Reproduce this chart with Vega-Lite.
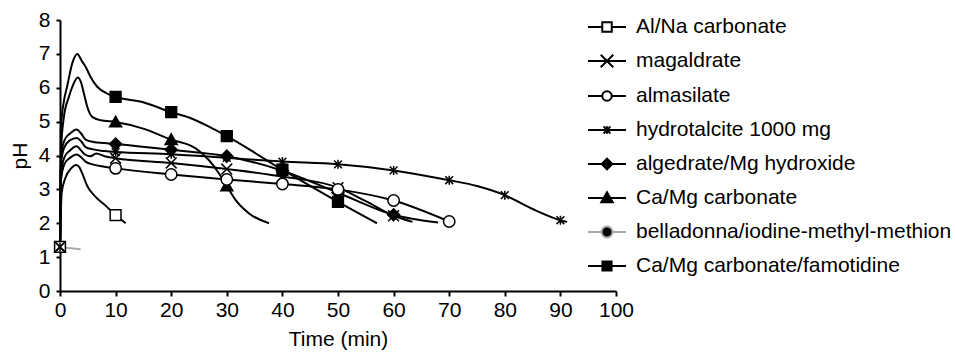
{
  "$schema": "https://vega.github.io/schema/vega-lite/v6.json",
  "width": 556,
  "height": 271,
  "autosize": {"type": "none"},
  "padding": {"left": 60, "top": 20, "right": 339, "bottom": 63},
  "background": "white",
  "config": {
    "view": {"stroke": null},
    "font": "Liberation Sans",
    "axis": {
      "grid": false,
      "domainColor": "black",
      "domainWidth": 2,
      "tickColor": "black",
      "tickWidth": 2,
      "labelFontSize": 21,
      "labelColor": "black",
      "labelOverlap": false,
      "titleFontSize": 21,
      "titleFontWeight": "normal",
      "titleColor": "black",
      "labelFont": "Liberation Sans",
      "titleFont": "Liberation Sans"
    },
    "point": {"size": 144, "strokeWidth": 1.5, "opacity": 1, "stroke": "black"}
  },
  "datasets": {
    "curves": [
      {"series": "Al/Na carbonate", "t": 0, "pH": 1.3},
      {"series": "Al/Na carbonate", "t": 0.3, "pH": 2.9},
      {"series": "Al/Na carbonate", "t": 1.0, "pH": 3.35},
      {"series": "Al/Na carbonate", "t": 2.0, "pH": 3.62},
      {"series": "Al/Na carbonate", "t": 2.9, "pH": 3.72},
      {"series": "Al/Na carbonate", "t": 3.5, "pH": 3.65},
      {"series": "Al/Na carbonate", "t": 4.0, "pH": 3.47},
      {"series": "Al/Na carbonate", "t": 4.9, "pH": 3.1},
      {"series": "Al/Na carbonate", "t": 6.4, "pH": 2.78},
      {"series": "Al/Na carbonate", "t": 8.2, "pH": 2.52},
      {"series": "Al/Na carbonate", "t": 10, "pH": 2.24},
      {"series": "Al/Na carbonate", "t": 11.8, "pH": 2.0},

      {"series": "magaldrate", "t": 0, "pH": 1.3},
      {"series": "magaldrate", "t": 0.2, "pH": 3.5},
      {"series": "magaldrate", "t": 0.8, "pH": 3.95},
      {"series": "magaldrate", "t": 1.8, "pH": 4.15},
      {"series": "magaldrate", "t": 3.0, "pH": 4.27},
      {"series": "magaldrate", "t": 3.8, "pH": 4.15},
      {"series": "magaldrate", "t": 4.5, "pH": 4.03},
      {"series": "magaldrate", "t": 5.5, "pH": 3.98},
      {"series": "magaldrate", "t": 6.5, "pH": 4.06},
      {"series": "magaldrate", "t": 8, "pH": 3.98},
      {"series": "magaldrate", "t": 10, "pH": 3.92},
      {"series": "magaldrate", "t": 20, "pH": 3.78},
      {"series": "magaldrate", "t": 30, "pH": 3.6},
      {"series": "magaldrate", "t": 40, "pH": 3.38},
      {"series": "magaldrate", "t": 50, "pH": 3.05},
      {"series": "magaldrate", "t": 55, "pH": 2.65},
      {"series": "magaldrate", "t": 60, "pH": 2.22},
      {"series": "magaldrate", "t": 63.4, "pH": 2.04},

      {"series": "almasilate", "t": 0, "pH": 1.3},
      {"series": "almasilate", "t": 0.2, "pH": 3.3},
      {"series": "almasilate", "t": 0.8, "pH": 3.75},
      {"series": "almasilate", "t": 1.8, "pH": 3.93},
      {"series": "almasilate", "t": 3.0, "pH": 4.03},
      {"series": "almasilate", "t": 3.8, "pH": 3.95},
      {"series": "almasilate", "t": 4.6, "pH": 3.82},
      {"series": "almasilate", "t": 6, "pH": 3.73},
      {"series": "almasilate", "t": 8, "pH": 3.67},
      {"series": "almasilate", "t": 10, "pH": 3.62},
      {"series": "almasilate", "t": 20, "pH": 3.44},
      {"series": "almasilate", "t": 30, "pH": 3.29},
      {"series": "almasilate", "t": 40, "pH": 3.16},
      {"series": "almasilate", "t": 50, "pH": 3.0},
      {"series": "almasilate", "t": 60, "pH": 2.67},
      {"series": "almasilate", "t": 70, "pH": 2.05},

      {"series": "hydrotalcite 1000 mg", "t": 0, "pH": 1.3},
      {"series": "hydrotalcite 1000 mg", "t": 0.2, "pH": 3.8},
      {"series": "hydrotalcite 1000 mg", "t": 0.8, "pH": 4.25},
      {"series": "hydrotalcite 1000 mg", "t": 1.8, "pH": 4.45},
      {"series": "hydrotalcite 1000 mg", "t": 3.0, "pH": 4.52},
      {"series": "hydrotalcite 1000 mg", "t": 3.8, "pH": 4.42},
      {"series": "hydrotalcite 1000 mg", "t": 4.6, "pH": 4.25},
      {"series": "hydrotalcite 1000 mg", "t": 6, "pH": 4.18},
      {"series": "hydrotalcite 1000 mg", "t": 8, "pH": 4.13},
      {"series": "hydrotalcite 1000 mg", "t": 10, "pH": 4.1},
      {"series": "hydrotalcite 1000 mg", "t": 20, "pH": 4.04},
      {"series": "hydrotalcite 1000 mg", "t": 30, "pH": 3.93},
      {"series": "hydrotalcite 1000 mg", "t": 40, "pH": 3.82},
      {"series": "hydrotalcite 1000 mg", "t": 50, "pH": 3.74},
      {"series": "hydrotalcite 1000 mg", "t": 60, "pH": 3.56},
      {"series": "hydrotalcite 1000 mg", "t": 70, "pH": 3.27},
      {"series": "hydrotalcite 1000 mg", "t": 75, "pH": 3.1},
      {"series": "hydrotalcite 1000 mg", "t": 80, "pH": 2.83},
      {"series": "hydrotalcite 1000 mg", "t": 85, "pH": 2.42},
      {"series": "hydrotalcite 1000 mg", "t": 90, "pH": 2.09},
      {"series": "hydrotalcite 1000 mg", "t": 91.2, "pH": 2.04},

      {"series": "algedrate/Mg hydroxide", "t": 0, "pH": 1.3},
      {"series": "algedrate/Mg hydroxide", "t": 0.2, "pH": 4.0},
      {"series": "algedrate/Mg hydroxide", "t": 0.8, "pH": 4.45},
      {"series": "algedrate/Mg hydroxide", "t": 1.8, "pH": 4.65},
      {"series": "algedrate/Mg hydroxide", "t": 3.0, "pH": 4.77},
      {"series": "algedrate/Mg hydroxide", "t": 3.8, "pH": 4.65},
      {"series": "algedrate/Mg hydroxide", "t": 4.6, "pH": 4.47},
      {"series": "algedrate/Mg hydroxide", "t": 6, "pH": 4.4},
      {"series": "algedrate/Mg hydroxide", "t": 8, "pH": 4.37},
      {"series": "algedrate/Mg hydroxide", "t": 10, "pH": 4.34},
      {"series": "algedrate/Mg hydroxide", "t": 20, "pH": 4.17},
      {"series": "algedrate/Mg hydroxide", "t": 30, "pH": 3.98},
      {"series": "algedrate/Mg hydroxide", "t": 40, "pH": 3.55},
      {"series": "algedrate/Mg hydroxide", "t": 50, "pH": 2.9},
      {"series": "algedrate/Mg hydroxide", "t": 60, "pH": 2.25},
      {"series": "algedrate/Mg hydroxide", "t": 68, "pH": 2.02},

      {"series": "Ca/Mg carbonate", "t": 0, "pH": 1.3},
      {"series": "Ca/Mg carbonate", "t": 0.2, "pH": 4.2},
      {"series": "Ca/Mg carbonate", "t": 0.7, "pH": 5.14},
      {"series": "Ca/Mg carbonate", "t": 1.6, "pH": 5.73},
      {"series": "Ca/Mg carbonate", "t": 2.4, "pH": 6.1},
      {"series": "Ca/Mg carbonate", "t": 3.2, "pH": 6.3},
      {"series": "Ca/Mg carbonate", "t": 3.8, "pH": 6.15},
      {"series": "Ca/Mg carbonate", "t": 4.3, "pH": 5.83},
      {"series": "Ca/Mg carbonate", "t": 4.9, "pH": 5.44},
      {"series": "Ca/Mg carbonate", "t": 5.8, "pH": 5.14},
      {"series": "Ca/Mg carbonate", "t": 7.3, "pH": 5.04},
      {"series": "Ca/Mg carbonate", "t": 10, "pH": 4.99},
      {"series": "Ca/Mg carbonate", "t": 14.8, "pH": 4.8},
      {"series": "Ca/Mg carbonate", "t": 20, "pH": 4.47},
      {"series": "Ca/Mg carbonate", "t": 24.4, "pH": 4.21},
      {"series": "Ca/Mg carbonate", "t": 26.8, "pH": 3.86},
      {"series": "Ca/Mg carbonate", "t": 28.6, "pH": 3.47},
      {"series": "Ca/Mg carbonate", "t": 30, "pH": 3.1},
      {"series": "Ca/Mg carbonate", "t": 31.6, "pH": 2.68},
      {"series": "Ca/Mg carbonate", "t": 34, "pH": 2.29},
      {"series": "Ca/Mg carbonate", "t": 37.6, "pH": 2.0},

      {"series": "belladonna/iodine-methyl-methion", "t": 0, "pH": 1.3},
      {"series": "belladonna/iodine-methyl-methion", "t": 1.5, "pH": 1.27},
      {"series": "belladonna/iodine-methyl-methion", "t": 3.7, "pH": 1.23},

      {"series": "Ca/Mg carbonate/famotidine", "t": 0, "pH": 1.3},
      {"series": "Ca/Mg carbonate/famotidine", "t": 0.15, "pH": 4.8},
      {"series": "Ca/Mg carbonate/famotidine", "t": 0.7, "pH": 5.6},
      {"series": "Ca/Mg carbonate/famotidine", "t": 1.3, "pH": 6.05},
      {"series": "Ca/Mg carbonate/famotidine", "t": 2.2, "pH": 6.72},
      {"series": "Ca/Mg carbonate/famotidine", "t": 3.1, "pH": 7.0},
      {"series": "Ca/Mg carbonate/famotidine", "t": 4.0, "pH": 6.77},
      {"series": "Ca/Mg carbonate/famotidine", "t": 4.6, "pH": 6.62},
      {"series": "Ca/Mg carbonate/famotidine", "t": 5.5, "pH": 6.32},
      {"series": "Ca/Mg carbonate/famotidine", "t": 6.7, "pH": 6.03},
      {"series": "Ca/Mg carbonate/famotidine", "t": 8.5, "pH": 5.83},
      {"series": "Ca/Mg carbonate/famotidine", "t": 10, "pH": 5.73},
      {"series": "Ca/Mg carbonate/famotidine", "t": 14.8, "pH": 5.58},
      {"series": "Ca/Mg carbonate/famotidine", "t": 20, "pH": 5.28},
      {"series": "Ca/Mg carbonate/famotidine", "t": 23.2, "pH": 5.12},
      {"series": "Ca/Mg carbonate/famotidine", "t": 26.8, "pH": 4.85},
      {"series": "Ca/Mg carbonate/famotidine", "t": 30, "pH": 4.57},
      {"series": "Ca/Mg carbonate/famotidine", "t": 40, "pH": 3.58},
      {"series": "Ca/Mg carbonate/famotidine", "t": 50, "pH": 2.63},
      {"series": "Ca/Mg carbonate/famotidine", "t": 57, "pH": 2.0}
    ],
    "markers": [
      {"drug": "Al/Na carbonate", "t": 0, "pH": 1.3},
      {"drug": "Al/Na carbonate", "t": 10, "pH": 2.24},
      {"drug": "magaldrate", "t": 0, "pH": 1.3},
      {"drug": "magaldrate", "t": 10, "pH": 3.92},
      {"drug": "magaldrate", "t": 20, "pH": 3.78},
      {"drug": "magaldrate", "t": 30, "pH": 3.6},
      {"drug": "magaldrate", "t": 40, "pH": 3.38},
      {"drug": "magaldrate", "t": 50, "pH": 3.05},
      {"drug": "magaldrate", "t": 60, "pH": 2.22},
      {"drug": "hydrotalcite 1000 mg", "t": 0, "pH": 1.3},
      {"drug": "hydrotalcite 1000 mg", "t": 10, "pH": 4.1},
      {"drug": "hydrotalcite 1000 mg", "t": 20, "pH": 4.04},
      {"drug": "hydrotalcite 1000 mg", "t": 30, "pH": 3.93},
      {"drug": "hydrotalcite 1000 mg", "t": 40, "pH": 3.82},
      {"drug": "hydrotalcite 1000 mg", "t": 50, "pH": 3.74},
      {"drug": "hydrotalcite 1000 mg", "t": 60, "pH": 3.56},
      {"drug": "hydrotalcite 1000 mg", "t": 70, "pH": 3.27},
      {"drug": "hydrotalcite 1000 mg", "t": 80, "pH": 2.83},
      {"drug": "hydrotalcite 1000 mg", "t": 90, "pH": 2.09},
      {"drug": "algedrate/Mg hydroxide", "t": 10, "pH": 4.34},
      {"drug": "algedrate/Mg hydroxide", "t": 20, "pH": 4.17},
      {"drug": "algedrate/Mg hydroxide", "t": 30, "pH": 3.98},
      {"drug": "algedrate/Mg hydroxide", "t": 40, "pH": 3.55},
      {"drug": "algedrate/Mg hydroxide", "t": 50, "pH": 2.9},
      {"drug": "algedrate/Mg hydroxide", "t": 60, "pH": 2.25},
      {"drug": "Ca/Mg carbonate", "t": 10, "pH": 4.99},
      {"drug": "Ca/Mg carbonate", "t": 20, "pH": 4.47},
      {"drug": "Ca/Mg carbonate", "t": 30, "pH": 3.1},
      {"drug": "Ca/Mg carbonate/famotidine", "t": 10, "pH": 5.73},
      {"drug": "Ca/Mg carbonate/famotidine", "t": 20, "pH": 5.28},
      {"drug": "Ca/Mg carbonate/famotidine", "t": 30, "pH": 4.57},
      {"drug": "Ca/Mg carbonate/famotidine", "t": 40, "pH": 3.58},
      {"drug": "Ca/Mg carbonate/famotidine", "t": 50, "pH": 2.63},
      {"drug": "almasilate", "t": 10, "pH": 3.62},
      {"drug": "almasilate", "t": 20, "pH": 3.44},
      {"drug": "almasilate", "t": 30, "pH": 3.29},
      {"drug": "almasilate", "t": 40, "pH": 3.16},
      {"drug": "almasilate", "t": 50, "pH": 3.0},
      {"drug": "almasilate", "t": 60, "pH": 2.67},
      {"drug": "almasilate", "t": 70, "pH": 2.05}
    ]
  },
  "encoding": {
    "x": {
      "field": "t", "type": "quantitative",
      "scale": {"domain": [0, 100], "nice": false, "zero": false},
      "axis": {
        "title": "Time (min)",
        "values": [0, 10, 20, 30, 40, 50, 60, 70, 80, 90, 100],
        "tickCount": 12,
        "tickSize": 5,
        "labelPadding": 3,
        "titlePadding": 8,
        "labelFlush": false,
        "labelOverlap": false
      }
    },
    "y": {
      "field": "pH", "type": "quantitative",
      "scale": {"domain": [0, 8], "nice": false},
      "axis": {
        "title": "pH",
        "values": [0, 1, 2, 3, 4, 5, 6, 7, 8],
        "tickCount": 10,
        "tickSize": 4,
        "labelPadding": 6,
        "titlePadding": 8,
        "labelOverlap": false,
        "labelFlush": false
      }
    }
  },
  "layer": [
    {
      "data": {"name": "curves"},
      "mark": {"type": "line", "interpolate": "monotone", "strokeWidth": 2},
      "encoding": {
        "color": {
          "field": "series", "type": "nominal",
          "scale": {
            "domain": ["Al/Na carbonate", "magaldrate", "almasilate", "hydrotalcite 1000 mg", "algedrate/Mg hydroxide", "Ca/Mg carbonate", "belladonna/iodine-methyl-methion", "Ca/Mg carbonate/famotidine"],
            "range": ["black", "black", "black", "black", "black", "black", "#aaaaaa", "black"]
          },
          "legend": {
            "title": null,
            "orient": "none",
            "legendX": 527,
            "legendY": -13,
            "padding": 0,
            "symbolSize": 1444,
            "labelFontSize": 21,
            "labelFont": "Liberation Sans",
            "labelColor": "black",
            "labelOffset": 9,
            "labelLimit": 500,
            "rowPadding": 4,
            "encode": {
              "symbols": {
                "update": {
                  "shape": {"signal": "['M-1,0H-0.25M0.25,0H1M-0.25,-0.25H0.25V0.25H-0.25Z','M-1,0H1M-0.33,-0.33L0.33,0.33M-0.33,0.33L0.33,-0.33','M-1,0H-0.25M0.25,0H1M-0.25,0A0.25,0.25 0 1,0 0.25,0A0.25,0.25 0 1,0 -0.25,0Z','M-1,0H1M-0.18,-0.18L0.18,0.18M-0.18,0.18L0.18,-0.18M0,-0.2V0.2','M-1,0H1M-0.28,0L0,-0.28L0.28,0L0,0.28Z','M-1,0H1M-0.3,0.22L0,-0.3L0.3,0.22Z','M-1,0H-0.29M0.29,0H1M-0.29,0A0.29,0.29 0 1,0 0.29,0A0.29,0.29 0 1,0 -0.29,0Z','M-1,0H1M-0.24,-0.24H0.24V0.24H-0.24Z'][indexof(['Al/Na carbonate','magaldrate','almasilate','hydrotalcite 1000 mg','algedrate/Mg hydroxide','Ca/Mg carbonate','belladonna/iodine-methyl-methion','Ca/Mg carbonate/famotidine'], datum.value)]"},
                  "fill": {"signal": "['white','transparent','white','transparent','black','black','black','black'][indexof(['Al/Na carbonate','magaldrate','almasilate','hydrotalcite 1000 mg','algedrate/Mg hydroxide','Ca/Mg carbonate','belladonna/iodine-methyl-methion','Ca/Mg carbonate/famotidine'], datum.value)]"},
                  "stroke": {"signal": "datum.value === 'belladonna/iodine-methyl-methion' ? '#aaaaaa' : 'black'"},
                  "strokeWidth": {"value": 2},
                  "size": {"value": 1444},
                  "opacity": {"value": 1}
                }
              }
            }
          }
        }
      }
    },
    {
      "data": {"name": "markers"},
      "transform": [{"filter": "datum.drug === 'Al/Na carbonate'"}],
      "mark": {"type": "point", "shape": "M-0.9,-0.9H0.9V0.9H-0.9Z", "fill": "white", "filled": true, "stroke": "black"},
      "encoding": {}
    },
    {
      "data": {"name": "markers"},
      "transform": [{"filter": "datum.drug === 'magaldrate'"}],
      "mark": {"type": "point", "shape": "M-0.9,-0.9L0.9,0.9M-0.9,0.9L0.9,-0.9", "fill": "transparent", "stroke": "black"},
      "encoding": {}
    },
    {
      "data": {"name": "markers"},
      "transform": [{"filter": "datum.drug === 'hydrotalcite 1000 mg'"}],
      "mark": {"type": "point", "shape": "M-0.65,-0.65L0.65,0.65M-0.65,0.65L0.65,-0.65M0,-0.75V0.75", "fill": "transparent", "stroke": "black"},
      "encoding": {}
    },
    {
      "data": {"name": "markers"},
      "transform": [{"filter": "datum.drug === 'algedrate/Mg hydroxide'"}],
      "mark": {"type": "point", "shape": "M-1,0L0,-1L1,0L0,1Z", "fill": "black", "filled": true, "stroke": "black"},
      "encoding": {}
    },
    {
      "data": {"name": "markers"},
      "transform": [{"filter": "datum.drug === 'Ca/Mg carbonate'"}],
      "mark": {"type": "point", "shape": "M-1,0.8L0,-0.95L1,0.8Z", "fill": "black", "filled": true, "stroke": "black"},
      "encoding": {}
    },
    {
      "data": {"name": "markers"},
      "transform": [{"filter": "datum.drug === 'Ca/Mg carbonate/famotidine'"}],
      "mark": {"type": "point", "shape": "M-0.9,-0.9H0.9V0.9H-0.9Z", "fill": "black", "filled": true, "stroke": "black"},
      "encoding": {}
    },
    {
      "data": {"name": "markers"},
      "transform": [{"filter": "datum.drug === 'almasilate'"}],
      "mark": {"type": "point", "shape": "M-0.95,0A0.95,0.95 0 1,0 0.95,0A0.95,0.95 0 1,0 -0.95,0Z", "fill": "white", "filled": true, "stroke": "black"},
      "encoding": {}
    }
  ]
}
